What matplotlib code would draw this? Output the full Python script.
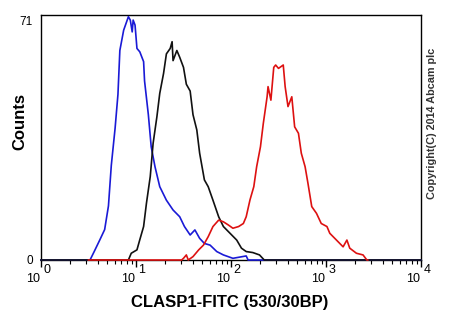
import matplotlib
matplotlib.use("Agg")
import matplotlib.pyplot as plt
import numpy as np
from matplotlib.transforms import blended_transform_factory

plt.rcParams['font.family'] = ['Liberation Sans', 'DejaVu Sans']

# --- data: (log10 intensity, counts) ---
blue_logx = [0.0, 0.516, 0.56, 0.62, 0.67, 0.71, 0.74, 0.78, 0.81, 0.83, 0.87, 0.92, 0.94, 0.96,
             0.97, 0.99, 1.01, 1.04, 1.08, 1.09, 1.13, 1.16, 1.20, 1.25, 1.32, 1.39, 1.46, 1.51,
             1.57, 1.62, 1.67, 1.72, 1.78, 1.85, 1.92, 2.02, 2.16, 2.18, 4.0]
blue_cnt = [0, 0, 2.5, 6, 9, 16, 28, 39, 49, 62, 68, 72, 71, 67.5,
            71, 69.5, 62.6, 61.6, 58.7, 53, 43, 33.5, 27.6, 21.7, 17.7, 14.8, 12.8, 9.9,
            7.4, 8.9, 6.4, 4.9, 4.4, 2.5, 1.5, 0.5, 1.2, 0, 0]

black_logx = [0.0, 0.92, 0.95, 1.01, 1.04, 1.08, 1.11, 1.15, 1.18, 1.22, 1.25, 1.29, 1.32, 1.36,
              1.38, 1.39, 1.43, 1.46, 1.50, 1.53, 1.57, 1.60, 1.64, 1.67, 1.72, 1.76, 1.81,
              1.87, 1.92, 1.99, 2.06, 2.11, 2.16, 2.23, 2.30, 2.35, 4.0]
black_cnt = [0, 0, 2, 3, 6, 9.9, 16.8, 24.7, 34.5, 42.4, 49.3, 55.2, 61, 62.6,
             64.6, 59, 62, 60, 57, 52, 50, 43, 38.5, 31.6, 23.7, 21.7, 17.7,
             12.8, 9.9, 7.9, 5.9, 3.5, 2.5, 2.2, 1.5, 0, 0]

red_logx = [0.5, 1.48, 1.50, 1.53, 1.55, 1.60, 1.66, 1.71, 1.76, 1.81, 1.87, 1.92, 1.97, 2.02,
            2.08, 2.13, 2.16, 2.20, 2.24, 2.27, 2.31, 2.34, 2.38, 2.39, 2.42, 2.45, 2.47, 2.50,
            2.55, 2.57, 2.60, 2.64, 2.67, 2.71, 2.74, 2.78, 2.81, 2.85, 2.90, 2.95, 3.01,
            3.04, 3.11, 3.18, 3.22, 3.25, 3.32, 3.39, 3.43, 3.44]
red_cnt = [0, 0, 0.5, 1.5, 0, 1, 3, 4.4, 6.9, 9.9, 11.8, 11.3, 10.4, 9.4,
           9.9, 10.8, 12.8, 17.8, 21.7, 27.6, 33.5, 40.4, 48.3, 51.3, 47.3, 57, 57.7, 56.7,
           57.7, 51.3, 45.4, 48.3, 39.4, 37.5, 31.6, 27.6, 22.7, 15.8, 13.8, 10.8, 9.9,
           7.9, 5.9, 3.9, 5.9, 3.5, 2, 1.5, 0, 0]

y_ticks = [0, 71]
x_decades = [0, 1, 2, 3, 4]
x_label = "CLASP1-FITC (530/30BP)"
y_label = "Counts"
copyright_text = "Copyright(C) 2014 Abcam plc"

fig = plt.figure(figsize=(4.5, 3.3), dpi=100)
ax = fig.add_axes([41/450, 1-260/330, 380/450, 245/330])

def draw(lx, c, col):
    ax.plot(10**np.array(lx), c, color=col, lw=1.2, zorder=3, clip_on=False)

draw(blue_logx, blue_cnt, '#1a1ad6')
draw(black_logx, black_cnt, '#111111')
draw(red_logx, red_cnt, '#dd1111')

ax.set_xscale('log')
ax.set_xlim(1, 1e4)
ax.set_ylim(0, 72.5)
for s in ax.spines.values():
    s.set_linewidth(1.0)
    s.set_color('black')

ax.set_yticks(y_ticks)
ax.set_yticklabels([str(v) for v in y_ticks], fontsize=8.5)
ax.tick_params(axis='y', length=0, pad=6)
ax.set_xticks([10**d for d in x_decades])
ax.set_xticklabels([])
ax.tick_params(axis='x', which='major', direction='out', length=5, width=1)
ax.tick_params(axis='x', which='minor', direction='out', length=3, width=0.8)

trans = blended_transform_factory(ax.transData, fig.transFigure)
for d in x_decades:
    ax.text(10**d * 0.985, 1 - 279/330, "10", transform=trans, ha='right', va='center', fontsize=9)
    ax.text(10**d * 1.06, 1 - 270/330, str(d), transform=trans, ha='left', va='center', fontsize=9)

fig.text(230/450, 1 - 302/330, x_label, ha='center', va='center', fontsize=12, fontweight='bold')
fig.text(20/450, 1 - 122/330, y_label, ha='center', va='center', fontsize=12, fontweight='bold', rotation=90)
fig.text(432/450, 1 - 123/330, copyright_text, ha='center', va='center', fontsize=7.8, fontweight='bold',
         rotation=90, color='#333333')

fig.savefig('out.png', dpi=100)
